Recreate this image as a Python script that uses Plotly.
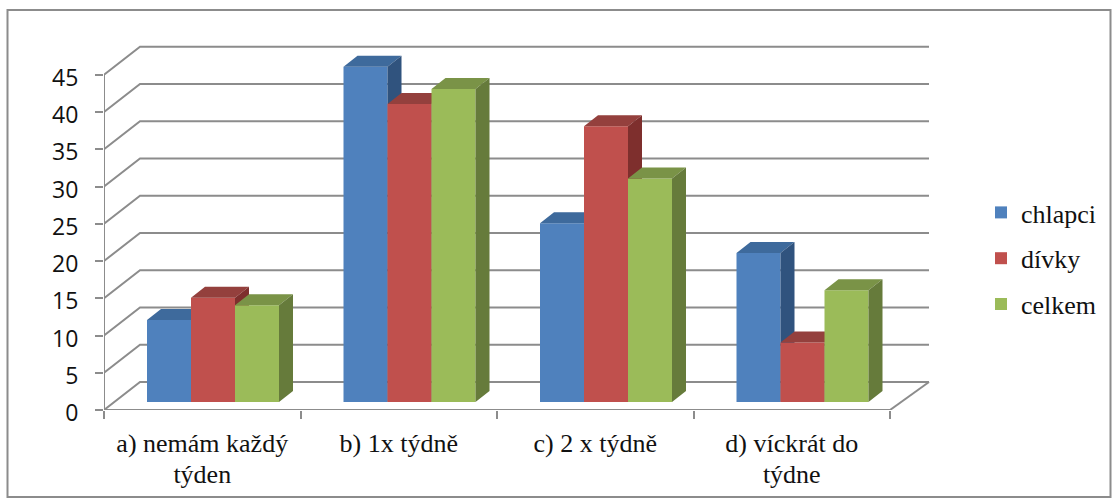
import plotly.graph_objects as go

W, H = 1119, 504
categories = ["a) nemám každý<br>týden", "b) 1x týdně", "c) 2 x týdně", "d) víckrát do<br>týdne"]
chlapci = [11, 45, 24, 20]
divky = [14, 40, 37, 8]
celkem = [13, 42, 30, 15]
y_ticks = [0, 5, 10, 15, 20, 25, 30, 35, 40, 45]
series = [
    ("chlapci", chlapci, "#4F81BD", "#3E6A9C", "#30537E"),
    ("dívky", divky, "#C0504D", "#94403D", "#7E2F2D"),
    ("celkem", celkem, "#9BBB59", "#7A9347", "#667B3B"),
]

# pixel geometry of the oblique projection, converted to axis units
PX_X = 196.5
PX_Y = 7.45
X0, Y0 = 104, 410
PLOT_R, PLOT_T = 935, 30
wall_dx, wall_dy = 36 / PX_X, 28 / PX_Y
wall_end = 4 + 39 / PX_X
bar_left, bar_w = 43 / PX_X, 44 / PX_X
bar_dx, bar_dy = 14 / PX_X, 11 / PX_Y
bar_base = 8 / PX_Y
GRID = "#8C8C8C"

fig = go.Figure()

# walls, floor and axis lines
wx, wy = [], []
for v in y_ticks:
    wx += [0, wall_dx, wall_end, None]
    wy += [v, v + wall_dy, v + wall_dy, None]
wx += [4, wall_end, None, 0, 4, None, 0, 0]
wy += [0, wall_dy, None, 0, 0, None, 0, 45]
fig.add_trace(go.Scatter(x=wx, y=wy, mode="lines", line=dict(color=GRID, width=2),
                         showlegend=False, hoverinfo="skip", cliponaxis=False, zorder=0))

for s, (name, vals, front, top, side) in enumerate(series):
    z = s + 1
    xs = [i + bar_left + bar_w * s for i in range(len(vals))]
    fig.add_trace(go.Bar(x=[x + bar_w / 2 for x in xs], y=vals, base=bar_base, width=bar_w,
                         name=name, marker=dict(color=front, line=dict(width=0)),
                         legendgroup=name, zorder=z))
    tx, ty, sx, sy = [], [], [], []
    for x, v in zip(xs, vals):
        h = v + bar_base
        tx += [x, x + bar_dx, x + bar_w + bar_dx, x + bar_w, x, None]
        ty += [h, h + bar_dy, h + bar_dy, h, h, None]
        sx += [x + bar_w, x + bar_w + bar_dx, x + bar_w + bar_dx, x + bar_w, x + bar_w, None]
        sy += [bar_base, bar_base + bar_dy, h + bar_dy, h, bar_base, None]
    for px, py, col in ((tx, ty, top), (sx, sy, side)):
        fig.add_trace(go.Scatter(x=px, y=py, mode="lines", fill="toself", fillcolor=col,
                                 line=dict(width=0), showlegend=False, hoverinfo="skip", zorder=z))

tick_text = ['<span style="font-size:26px">' + c.replace("<br>", '</span><br><span style="font-size:26px">') + "</span>"
             for c in categories]

fig.update_layout(
    width=W, height=H, margin=dict(l=0, r=0, t=0, b=0, autoexpand=False),
    paper_bgcolor="white", plot_bgcolor="rgba(0,0,0,0)",
    barmode="overlay", hovermode=False,
    font=dict(family="Liberation Serif", color="#111111"),
    xaxis=dict(domain=[X0 / W, PLOT_R / W], range=[0, (PLOT_R - X0) / PX_X], showgrid=False,
               zeroline=False, showline=False, tickmode="array",
               tickvals=[i + 0.5 for i in range(4)], ticktext=tick_text, ticks="",
               tickangle=0, tickfont=dict(family="Liberation Serif", size=24, color="#111111"),
               ticklabelstandoff=17,
               minor=dict(tickmode="array", tickvals=[0, 1, 2, 3, 4], ticks="outside",
                          ticklen=8, tickwidth=2, tickcolor=GRID, showgrid=False)),
    yaxis=dict(domain=[(H - Y0) / H, (H - PLOT_T) / H], range=[0, (Y0 - PLOT_T) / PX_Y], showgrid=False,
               zeroline=False, showline=False, tickmode="array", tickvals=y_ticks,
               ticks="outside", ticklen=8, tickwidth=2, tickcolor=GRID,
               ticklabelstandoff=12, ticklabelshift=3,
               tickfont=dict(family="Open Sans", size=23, color="#111111")),
    legend=dict(x=981 / W, y=(H - 189) / H, xanchor="left", yanchor="top",
                font=dict(family="Liberation Serif", size=26, color="#111111"),
                tracegroupgap=9, itemwidth=30, bgcolor="rgba(0,0,0,0)", traceorder="grouped"),
    shapes=[dict(type="rect", xref="paper", yref="paper", x0=7.5 / W, x1=1110.5 / W,
                 y0=(H - 497) / H, y1=(H - 10) / H, line=dict(color=GRID, width=2), layer="below")],
)

fig.write_html("out.html", config=dict(displayModeBar=False),
               post_script="document.body.style.margin='0';")
